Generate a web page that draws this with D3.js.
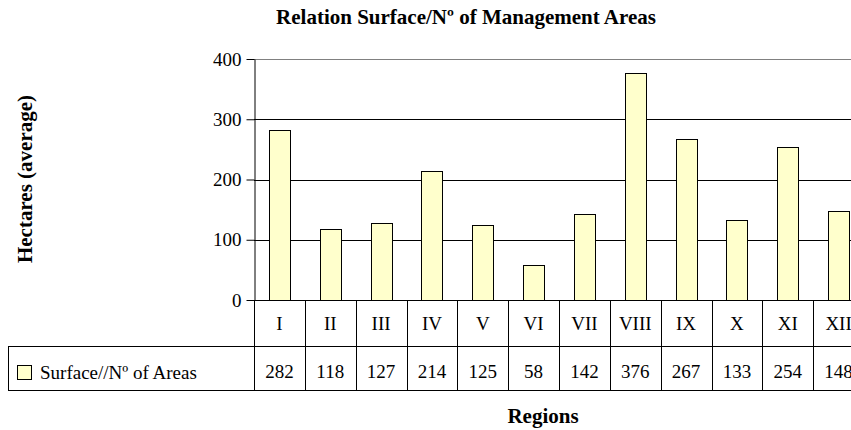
<!DOCTYPE html>
<html>
<head>
<meta charset="utf-8">
<script src="https://cdn.jsdelivr.net/npm/d3@7"></script>
<style>
  body { margin: 0; background: #fff; }
  text { font-family: "Liberation Serif", "Times New Roman", serif; fill: #000; }
</style>
</head>
<body>
<svg id="chart"></svg>
<script>
// chart data
const regions = ["I", "II", "III", "IV", "V", "VI", "VII", "VIII", "IX", "X", "XI", "XII"];
const surfacePerArea = [282, 118, 127, 214, 125, 58, 142, 376, 267, 133, 254, 148];
const yTicks = [0, 100, 200, 300, 400];
const seriesName = "Surface//Nº of Areas";

const width = 851, height = 430;
const margin = { top: 59, left: 254 };
const plotW = 610, plotH = 241;   // plot runs past the right edge, as in the original
const tableRow = 46, valueRow = 44;
const labelSize = "19px", titleSize = "21px";

const svg = d3.select("#chart")
    .attr("width", width)
    .attr("height", height);

// Title and axis titles
svg.append("text")
    .attr("x", 466).attr("y", 24)
    .attr("text-anchor", "middle")
    .style("font-size", titleSize).style("font-weight", "bold")
    .text("Relation Surface/Nº of Management Areas");

svg.append("text")
    .attr("transform", "translate(32,179) rotate(-90)")
    .attr("text-anchor", "middle")
    .style("font-size", titleSize).style("font-weight", "bold")
    .text("Hectares (average)");

svg.append("text")
    .attr("x", 543).attr("y", 423)
    .attr("text-anchor", "middle")
    .style("font-size", titleSize).style("font-weight", "bold")
    .text("Regions");

const chart = svg.append("g")
    .attr("transform", `translate(${margin.left},${margin.top})`);

const x = d3.scaleBand()
    .domain(regions)
    .range([0, plotW])
    .paddingInner(0).paddingOuter(0);

const y = d3.scaleLinear()
    .domain([0, 400])
    .range([plotH, 0]);

// gridlines
chart.selectAll(".grid")
    .data(yTicks.filter(d => d > 0 && d < 400))
    .join("line")
    .attr("class", "grid")
    .attr("x1", 0).attr("x2", plotW)
    .attr("y1", d => Math.round(y(d)) + 0.5)
    .attr("y2", d => Math.round(y(d)) + 0.5)
    .attr("stroke", "#000");

// plot area top border
chart.append("line")
    .attr("x1", 0).attr("x2", plotW)
    .attr("y1", 0.5).attr("y2", 0.5)
    .attr("stroke", "#808080");

// bars
const barW = x.bandwidth() * 0.41;
chart.selectAll(".bar")
    .data(regions)
    .join("rect")
    .attr("class", "bar")
    .attr("x", (d) => Math.round(x(d) + (x.bandwidth() - barW) / 2) + 0.5)
    .attr("y", (d, i) => Math.round(y(surfacePerArea[i])) + 0.5)
    .attr("width", Math.round(barW))
    .attr("height", (d, i) => Math.round(plotH - y(surfacePerArea[i])))
    .attr("fill", "#ffffcc")
    .attr("stroke", "#000");

// y axis
const yAxis = d3.axisLeft(y)
    .tickValues(yTicks)
    .tickSize(8)
    .tickSizeOuter(0)
    .tickPadding(5);

const yAxisG = chart.append("g")
    .attr("transform", "translate(0.5,0)")
    .call(yAxis);
yAxisG.select(".domain").attr("stroke", "#000");
yAxisG.selectAll(".tick line").attr("stroke", "#000");
yAxisG.selectAll("text")
    .style("font-size", labelSize)
    .style("font-family", "Liberation Serif, serif");

// data table below the plot
const table = chart.append("g").attr("transform", `translate(0,${plotH})`);
const tLeft = 8 - margin.left;

// horizontal rules
table.append("line")
    .attr("x1", 0).attr("x2", plotW)
    .attr("y1", 0.5).attr("y2", 0.5)
    .attr("stroke", "#000");
[tableRow, tableRow + valueRow].forEach(yy => {
    table.append("line")
        .attr("x1", tLeft).attr("x2", plotW)
        .attr("y1", yy + 0.5).attr("y2", yy + 0.5)
        .attr("stroke", "#000");
});

// vertical rules
table.append("line")
    .attr("x1", tLeft + 0.5).attr("x2", tLeft + 0.5)
    .attr("y1", tableRow).attr("y2", tableRow + valueRow)
    .attr("stroke", "#000");
table.selectAll(".col")
    .data(regions.concat(["end"]))
    .join("line")
    .attr("class", "col")
    .attr("x1", (d, i) => Math.round(i * x.bandwidth()) + 0.5)
    .attr("x2", (d, i) => Math.round(i * x.bandwidth()) + 0.5)
    .attr("y1", 0).attr("y2", tableRow + valueRow)
    .attr("stroke", "#000");

// category labels
table.selectAll(".cat")
    .data(regions)
    .join("text")
    .attr("class", "cat")
    .attr("x", d => x(d) + x.bandwidth() / 2)
    .attr("y", 30)
    .attr("text-anchor", "middle")
    .style("font-size", labelSize)
    .text(d => d);

// values
table.selectAll(".val")
    .data(surfacePerArea)
    .join("text")
    .attr("class", "val")
    .attr("x", (d, i) => x(regions[i]) + x.bandwidth() / 2)
    .attr("y", tableRow + 32)
    .attr("text-anchor", "middle")
    .style("font-size", labelSize)
    .text(d => d);

// legend key
table.append("rect")
    .attr("x", tLeft + 9.5).attr("y", tableRow + 19.5)
    .attr("width", 14).attr("height", 14)
    .attr("fill", "#ffffcc")
    .attr("stroke", "#000");
table.append("text")
    .attr("x", tLeft + 32).attr("y", tableRow + 33)
    .style("font-size", labelSize)
    .text(seriesName);
</script>
</body>
</html>
